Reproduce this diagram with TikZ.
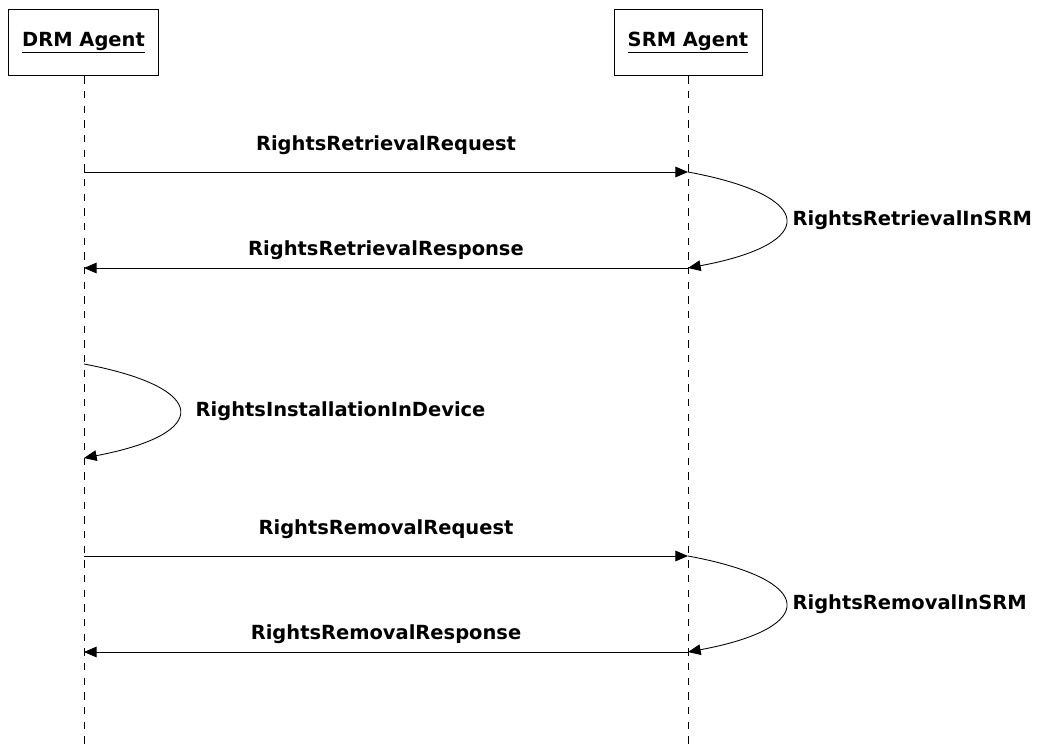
\documentclass[tikz,border=0pt]{standalone}
\usepackage{fontspec}
\setmainfont{DejaVu Sans}
\usetikzlibrary{arrows.meta,positioning,calc}

\newcommand{\msgsize}{\fontsize{14.6}{17.5}\selectfont\bfseries}

\tikzset{
  agent/.style={rectangle, draw=black, line width=0.75pt, minimum width=113pt, minimum height=50pt, text centered, font=\msgsize},
  lifeline/.style={dash pattern=on 5.5pt off 5.5pt, line width=0.6pt},
  msg/.style={-{Triangle[length=9.5pt,width=8pt]}, line width=0.65pt},
  lbl/.style={font=\msgsize, inner sep=1pt}
}

\begin{document}
\begin{tikzpicture}[x=0.75pt, y=-0.75pt]
    \useasboundingbox (0,0) rectangle (1042,749);
    \node (drm) [agent] at (83.5,42.5) {\underline{DRM Agent}};
    \node (srm) [agent, minimum width=111pt] at (688,42.5) {\underline{SRM Agent}};
    \coordinate (drm end) at (84,749);
    \coordinate (srm end) at (688,749);
    \draw [lifeline] (drm.south -| drm end) -- (drm end);
    \draw [lifeline] (srm.south -| srm end) -- (srm end);

    % points on the lifelines
    \foreach \n/\y in {1/172,2/268,3/364,4/458,5/556,6/652} {
      \coordinate (d\n) at (84,\y);
      \coordinate (s\n) at (688,\y);
    }

    \draw [msg] (d1) -- node (retreq) [lbl, above=12pt] {RightsRetrievalRequest} (s1);
    \draw [msg] (s1) .. controls +(130,24) and +(130,-24) .. node (retsrm) [lbl, pos=0.5, right=4pt] {RightsRetrievalInSRM} (s2);
    \draw [msg] (s2) -- node (retresp) [lbl, above=5pt] {RightsRetrievalResponse} (d2);

    \draw [msg] (d3) .. controls +(127,24) and +(127,-24) .. node (instdev) [lbl, pos=0.5, right=11pt] {RightsInstallationInDevice} (d4);

    \draw [msg] (d5) -- node (remreq) [lbl, above=12pt] {RightsRemovalRequest} (s5);
    \draw [msg] (s5) .. controls +(130,24) and +(130,-24) .. node (remsrm) [lbl, pos=0.5, right=4pt] {RightsRemovalInSRM} (s6);
    \draw [msg] (s6) -- node (remresp) [lbl, above=5pt] {RightsRemovalResponse} (d6);
\end{tikzpicture}
\end{document}
